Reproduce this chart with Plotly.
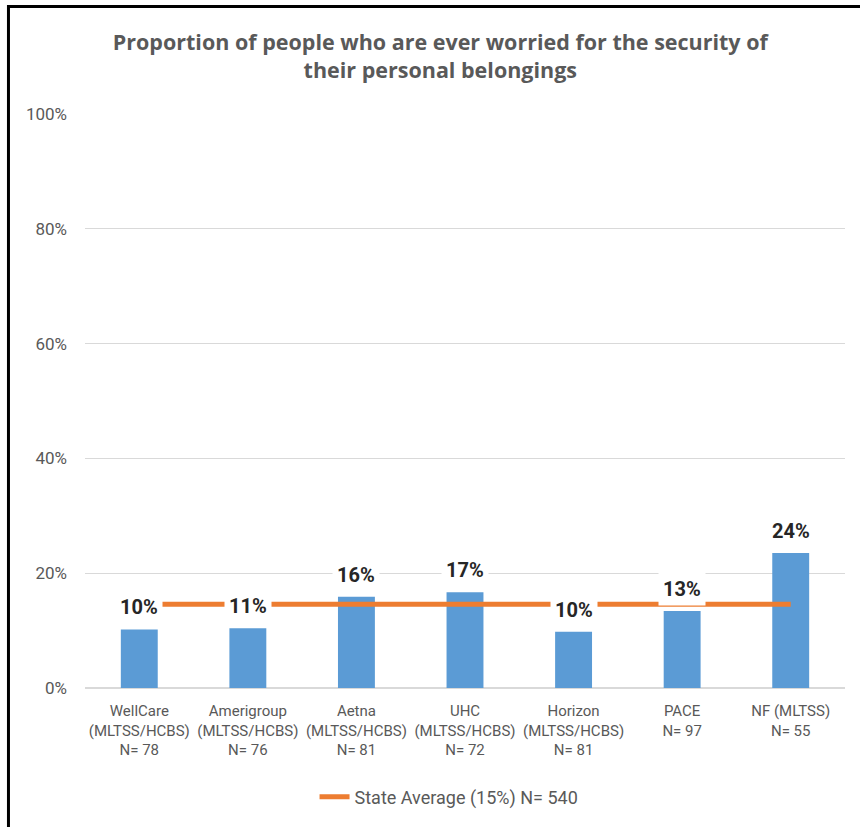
import plotly.graph_objects as go

categories = ["WellCare", "Amerigroup", "Aetna", "UHC", "Horizon", "PACE", "NF (MLTSS)"]
category_labels = [
    "WellCare<br>(MLTSS/HCBS)<br>N= 78",
    "Amerigroup<br>(MLTSS/HCBS)<br>N= 76",
    "Aetna<br>(MLTSS/HCBS)<br>N= 81",
    "UHC<br>(MLTSS/HCBS)<br>N= 72",
    "Horizon<br>(MLTSS/HCBS)<br>N= 81",
    "PACE<br>N= 97",
    "NF (MLTSS)<br>N= 55",
]
values = [0.102, 0.104, 0.159, 0.167, 0.098, 0.134, 0.235]
value_labels = ["10%", "11%", "16%", "17%", "10%", "13%", "24%"]
state_average = 0.146
state_average_name = "State Average (15%) N= 540"
y_ticks = [0, 0.2, 0.4, 0.6, 0.8, 1.0]
y_tick_labels = ["0%", "20%", "40%", "60%", "80%", "100%"]

title_text = ("Proportion of people who are ever worried for the security of"
              "<br>their personal belongings")

FONT = "Roboto, Lato, 'Open Sans', sans-serif"
TITLE_FONT = "'Open Sans', Roboto, sans-serif"

fig = go.Figure()
fig.add_trace(go.Bar(
    x=categories, y=values, width=0.34,
    marker=dict(color="#5B9BD5", line=dict(width=0)),
    showlegend=False, hoverinfo="skip",
))
fig.add_trace(go.Scatter(
    x=categories, y=[state_average] * len(categories),
    mode="lines", line=dict(color="#ED7D31", width=5),
    name=state_average_name,
))

annotations = []
for c, v, t in zip(categories, values, value_labels):
    annotations.append(dict(
        x=c, y=v, xref="x", yref="y", text="<b>%s</b>" % t,
        showarrow=False, yanchor="bottom", yshift=5,
        bgcolor="white", borderpad=4, borderwidth=1, bordercolor="rgba(0,0,0,0)",
        font=dict(family=FONT, size=20, color="#262626"),
    ))

shapes = [
    dict(type="line", xref="paper", yref="paper",
         x0=-0.1026, x1=1.03, y0=1.1873, y1=1.1873,
         line=dict(color="black", width=3)),
    dict(type="line", xref="paper", yref="paper",
         x0=-0.1007, x1=-0.1007, y0=1.19, y1=-0.26,
         line=dict(color="black", width=3)),
]

fig.update_layout(
    width=860, height=827,
    margin=dict(l=85, r=15, t=114, b=139),
    paper_bgcolor="white", plot_bgcolor="white",
    font=dict(family=FONT, color="#595959"),
    title=dict(text="<b>%s</b>" % title_text, x=0.512, xanchor="center",
               xref="container", y=0.94, yanchor="top", yref="container",
               font=dict(family=TITLE_FONT, size=21.5, color="#595959")),
    xaxis=dict(tickmode="array", tickvals=categories, ticktext=category_labels,
               tickfont=dict(size=15, color="#595959"), showgrid=False,
               showline=False, ticks="", ticklabelstandoff=12),
    yaxis=dict(range=[0, 1], tickmode="array", tickvals=y_ticks, ticktext=y_tick_labels,
               tickfont=dict(size=17, color="#595959"), showgrid=True,
               gridcolor="#D9D9D9", gridwidth=1, zeroline=True,
               zerolinecolor="#D9D9D9", zerolinewidth=1.5, showline=False,
               ticks="", ticklabelstandoff=17),
    legend=dict(orientation="h", x=0.479, xanchor="center", y=-0.19, yanchor="middle",
                font=dict(size=18, color="#595959"), bgcolor="rgba(0,0,0,0)"),
    annotations=annotations,
    shapes=shapes,
    bargap=0.66,
)

fig.write_html("out.html", config={"displayModeBar": False},
               post_script="document.body.style.margin='0';")
